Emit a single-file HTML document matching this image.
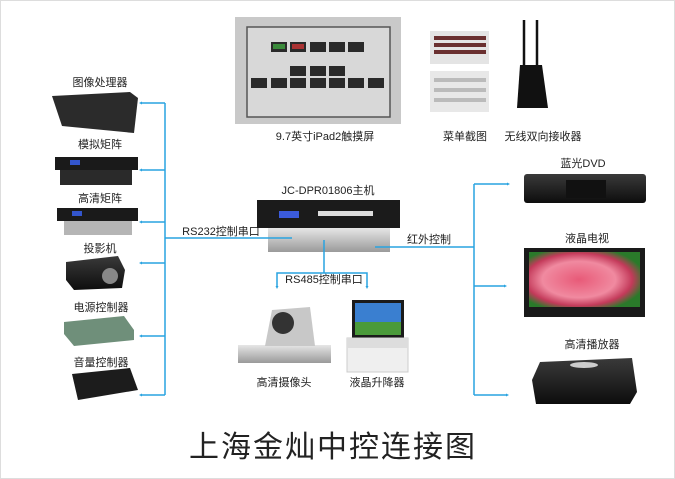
<!DOCTYPE html>
<html><head><meta charset="utf-8"><style>
body{margin:0;width:675px;height:479px;background:#fff;overflow:hidden;font-family:"Liberation Sans","Noto Sans CJK SC",sans-serif}
</style></head><body>
<svg width="675" height="479" xmlns="http://www.w3.org/2000/svg" style="position:absolute;left:0;top:0">
<defs>
<radialGradient id="rose" cx="0.45" cy="0.5" r="0.6"><stop offset="0" stop-color="#e85a78"/><stop offset="0.55" stop-color="#f08aa0"/><stop offset="0.8" stop-color="#c33a5a"/><stop offset="1" stop-color="#2a7a2a"/></radialGradient>
<linearGradient id="blk" x1="0" y1="0" x2="0" y2="1"><stop offset="0" stop-color="#3a3a3a"/><stop offset="1" stop-color="#0d0d0d"/></linearGradient>
<linearGradient id="sil" x1="0" y1="0" x2="0" y2="1"><stop offset="0" stop-color="#e6e6e6"/><stop offset="1" stop-color="#9a9a9a"/></linearGradient>
</defs>
<rect x="0.5" y="0.5" width="674" height="478" fill="#fff" stroke="#ddd"/>
<rect x="235" y="17" width="166" height="107" fill="#c9c9c9"/>
<rect x="247" y="27" width="143" height="90" fill="#d8d8d8" stroke="#555" stroke-width="1.5"/>
<g fill="#2a2a2a">
<rect x="271" y="42" width="16" height="10"/><rect x="290" y="42" width="16" height="10"/><rect x="310" y="42" width="16" height="10"/><rect x="329" y="42" width="16" height="10"/><rect x="348" y="42" width="16" height="10"/>
<rect x="290" y="66" width="16" height="10"/><rect x="310" y="66" width="16" height="10"/><rect x="329" y="66" width="16" height="10"/>
<rect x="251" y="78" width="16" height="10"/><rect x="271" y="78" width="16" height="10"/><rect x="290" y="78" width="16" height="10"/><rect x="310" y="78" width="16" height="10"/><rect x="329" y="78" width="16" height="10"/><rect x="348" y="78" width="16" height="10"/><rect x="368" y="78" width="16" height="10"/>
</g>
<rect x="273" y="44" width="12" height="5" fill="#3a8a3a"/><rect x="292" y="44" width="12" height="5" fill="#a33"/>
<rect x="430" y="31" width="59" height="33" fill="#e4e4e4"/>
<g fill="#6a3030"><rect x="434" y="36" width="52" height="4"/><rect x="434" y="43" width="52" height="4"/><rect x="434" y="50" width="52" height="4"/></g>
<rect x="430" y="71" width="59" height="41" fill="#e8e8e8"/>
<g fill="#bbb"><rect x="434" y="78" width="52" height="4"/><rect x="434" y="88" width="52" height="4"/><rect x="434" y="98" width="52" height="4"/></g>
<line x1="524" y1="20" x2="524" y2="65" stroke="#111" stroke-width="2.5"/><line x1="537" y1="20" x2="537" y2="65" stroke="#111" stroke-width="2.5"/>
<path d="M520 65 L542 65 L548 108 L517 108 Z" fill="#111"/>
<g font-size="11" fill="#222" text-anchor="middle">
<text x="325" y="140">9.7英寸iPad2触摸屏</text>
<text x="465" y="140">菜单截图</text>
<text x="543" y="140">无线双向接收器</text>
<text x="100" y="86">图像处理器</text>
<text x="100" y="148">模拟矩阵</text>
<text x="100" y="202">高清矩阵</text>
<text x="100" y="252">投影机</text>
<text x="101" y="311">电源控制器</text>
<text x="101" y="366">音量控制器</text>
<text x="328" y="194">JC-DPR01806主机</text>
<text x="221" y="235">RS232控制串口</text>
<text x="429" y="243">红外控制</text>
<text x="324" y="283">RS485控制串口</text>
<text x="583" y="167">蓝光DVD</text>
<text x="587" y="242">液晶电视</text>
<text x="592" y="348">高清播放器</text>
<text x="284" y="386">高清摄像头</text>
<text x="377" y="386">液晶升降器</text>
</g>
<text x="333" y="457" font-size="30" fill="#222" text-anchor="middle" letter-spacing="2">上海金灿中控连接图</text>
<path d="M52 96 L130 92 L138 98 L134 133 L62 126 Z" fill="#2b2b2b"/>
<rect x="55" y="157" width="83" height="13" fill="#1a1a1a"/><rect x="70" y="160" width="10" height="5" fill="#3355cc"/>
<rect x="60" y="170" width="72" height="15" fill="#2a2a2a"/>
<rect x="57" y="208" width="81" height="13" fill="#1a1a1a"/><rect x="72" y="211" width="10" height="5" fill="#3355cc"/>
<rect x="64" y="221" width="68" height="14" fill="#b5b5b5"/>
<path d="M66 262 L118 256 L125 270 L122 288 L74 290 L66 280 Z" fill="url(#blk)"/><circle cx="110" cy="276" r="8" fill="#888"/>
<path d="M64 322 L124 316 L134 330 L134 340 L74 346 L64 334 Z" fill="#6f8f7a"/>
<path d="M72 374 L130 368 L138 390 L78 400 Z" fill="#1c1c1c"/>
<rect x="257" y="200" width="143" height="28" fill="#1b1b1b"/><rect x="279" y="211" width="20" height="7" fill="#3b5bdc"/>
<g fill="#ddd"><rect x="318" y="211" width="55" height="5"/></g>
<rect x="268" y="228" width="122" height="24" fill="url(#sil)"/>
<rect x="524" y="174" width="122" height="29" rx="3" fill="url(#blk)"/><rect x="566" y="180" width="40" height="18" fill="#111"/>
<rect x="524" y="248" width="121" height="69" fill="#1a1a1a"/>
<rect x="529" y="252" width="111" height="55" fill="url(#rose)"/>
<path d="M540 362 L632 358 L637 392 L630 404 L536 404 L532 380 Z" fill="url(#blk)"/>
<ellipse cx="584" cy="365" rx="14" ry="3" fill="#ccc"/>
<rect x="238" y="345" width="93" height="18" fill="url(#sil)"/>
<path d="M265 346 L272 310 L310 307 L315 346 Z" fill="#c8c8c8"/><circle cx="283" cy="323" r="11" fill="#333"/>
<rect x="352" y="300" width="52" height="38" fill="#1b1b1b"/><rect x="355" y="303" width="46" height="32" fill="#3a7fd0"/><rect x="355" y="322" width="46" height="13" fill="#4a9a3a"/>
<rect x="347" y="338" width="61" height="34" fill="#efefef" stroke="#ccc"/><rect x="347" y="338" width="61" height="10" fill="#ddd"/>
<g stroke="#29a3e0" stroke-width="1.5" fill="none">
<line x1="165" y1="103" x2="165" y2="395"/>
<line x1="141" y1="103" x2="165" y2="103"/><line x1="141" y1="170" x2="165" y2="170"/><line x1="141" y1="222" x2="165" y2="222"/><line x1="141" y1="263" x2="165" y2="263"/><line x1="141" y1="336" x2="165" y2="336"/><line x1="141" y1="395" x2="165" y2="395"/>
<line x1="165" y1="238" x2="292" y2="238"/>
<line x1="375" y1="247" x2="474" y2="247"/>
<line x1="474" y1="184" x2="474" y2="395"/>
<line x1="474" y1="184" x2="508" y2="184"/><line x1="474" y1="286" x2="505" y2="286"/><line x1="474" y1="395" x2="507" y2="395"/>
<line x1="324" y1="240" x2="324" y2="273"/>
<polyline points="277,287 277,273 367,273 367,287"/>
</g>
<g fill="#29a3e0">
<path d="M139 103 l3 -1.5 v3z"/><path d="M139 170 l3 -1.5 v3z"/><path d="M139 222 l3 -1.5 v3z"/><path d="M139 263 l3 -1.5 v3z"/><path d="M139 336 l3 -1.5 v3z"/><path d="M139 395 l3 -1.5 v3z"/>
<path d="M510 184 l-3 -1.5 v3z"/><path d="M507 286 l-3 -1.5 v3z"/><path d="M509 395 l-3 -1.5 v3z"/>
<path d="M277 289 l-1.5 -3 h3z"/><path d="M367 289 l-1.5 -3 h3z"/>
</g>
</svg>
</body></html>
